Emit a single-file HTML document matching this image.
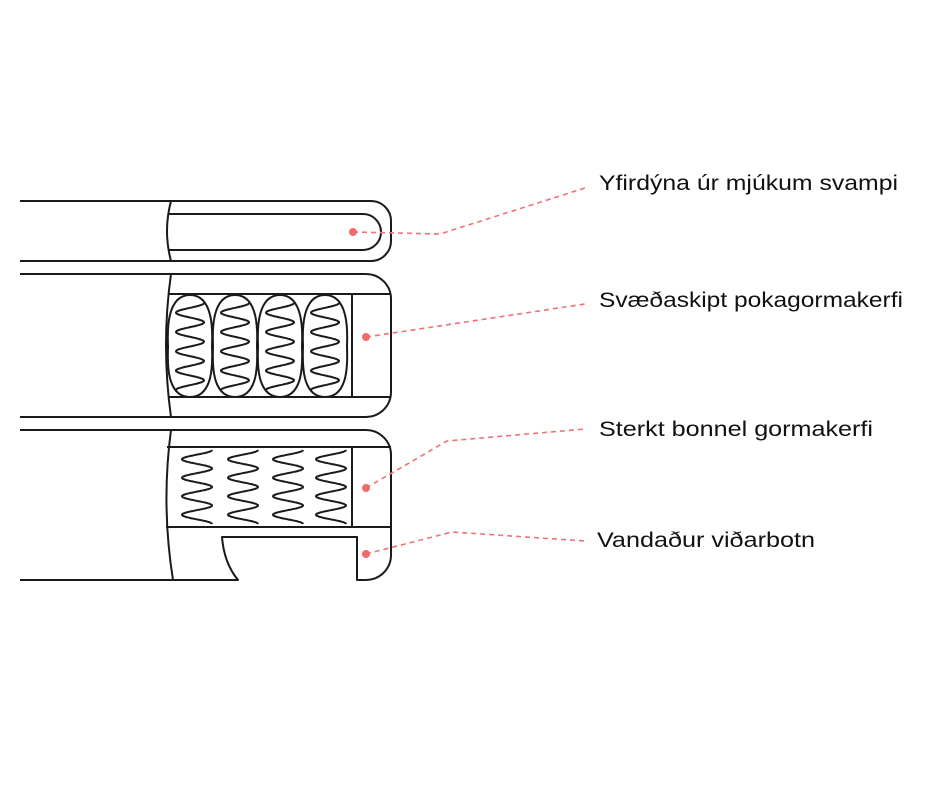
<!DOCTYPE html>
<html><head><meta charset="utf-8"><style>
html,body{margin:0;padding:0;background:#fff;width:940px;height:788px;overflow:hidden}
svg{display:block}
text{font-family:"Liberation Sans",sans-serif;font-size:21px;fill:#111}
</style></head><body>
<svg id="s" width="940" height="788" viewBox="0 0 940 788">
<g fill="none" stroke="#1a1a1a" stroke-width="2" stroke-linejoin="round">
<path d="M20 201 H371 A20 20 0 0 1 391 221 V241 A20 20 0 0 1 371 261 H20"/>
<path d="M171 201 Q163 231 171 261"/>
<path d="M168 214 H363 A18 18 0 0 1 363 250 H168"/>
<path d="M20 274 H366 A25 25 0 0 1 391 299 V392 A25 25 0 0 1 366 417 H20"/>
<path d="M171 274 Q161 345 171 417"/>
<path d="M168 294 H391 M168 397 H391 M352 294 V397"/>
<path d="M20 430 H366 A25 25 0 0 1 391 455 V555 A25 25 0 0 1 366 580 H357 V537 H222 Q224 563 238 580 H20"/>
<path d="M171 430 Q161 505 173 580"/>
<path d="M167 447 H391 M166 527 H391 M352 447 V527"/>
<g id="pk"></g>
<g id="bn"></g>
</g>
<g stroke="#f07272" stroke-width="1.6" stroke-dasharray="5 4" fill="none">
<path d="M353 232 L440 234 L585 188"/>
<path d="M366 337 L585 304"/>
<path d="M366 488 L447 441 L585 429"/>
<path d="M366 554 L452 532 L585 541"/>
</g>
<g fill="#f26a6a">
<circle cx="353" cy="232" r="4"/><circle cx="366" cy="337" r="4"/>
<circle cx="366" cy="488" r="4"/><circle cx="366" cy="554" r="4"/>
</g>
<text x="599" y="190" textLength="299" lengthAdjust="spacingAndGlyphs">Yfirdýna úr mjúkum svampi</text>
<text x="599" y="307" textLength="304" lengthAdjust="spacingAndGlyphs">Svæðaskipt pokagormakerfi</text>
<text x="599" y="436" textLength="274" lengthAdjust="spacingAndGlyphs">Sterkt bonnel gormakerfi</text>
<text x="597" y="547" textLength="218" lengthAdjust="spacingAndGlyphs">Vandaður viðarbotn</text>
</svg>
<script>
var NS="http://www.w3.org/2000/svg";
function spring(cx,y0,y1,w,n){var pts=[],N=200;
for(var i=0;i<=N;i++){var t=i/N;var y=y0+(y1-y0)*t;var x=cx+(w/2)*Math.cos(t*n*2*Math.PI);pts.push(x.toFixed(1)+" "+y.toFixed(1));}
return "M"+pts.join(" L");}
function add(g,d){var p=document.createElementNS(NS,"path");p.setAttribute("d",d);g.appendChild(p);}
var pk=document.getElementById("pk"),bn=document.getElementById("bn");
[190,235,280,325].forEach(function(cx){
 add(pk,"M"+cx+" 295 C"+(cx-26)+" 295 "+(cx-22)+" 340 "+(cx-22)+" 346 C"+(cx-22)+" 355 "+(cx-26)+" 397 "+cx+" 397 C"+(cx+26)+" 397 "+(cx+22)+" 355 "+(cx+22)+" 346 C"+(cx+22)+" 340 "+(cx+26)+" 295 "+cx+" 295 Z");
 add(pk,spring(cx,303,390,28,4.5));
});
[197,243,288,331].forEach(function(cx){add(bn,spring(cx,450,524,30,4));});
</script>
</body></html>
